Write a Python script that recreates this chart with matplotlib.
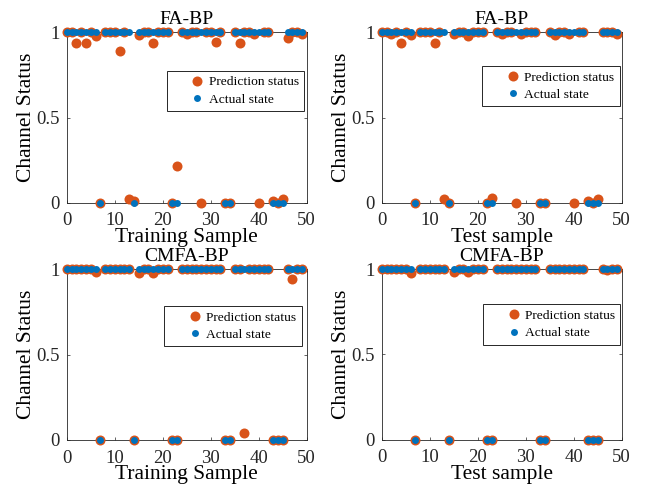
import numpy as np
import matplotlib
matplotlib.use('Agg')
import matplotlib.pyplot as plt

plt.rcParams['font.family'] = ['Liberation Serif', 'DejaVu Serif']

# sample index 0..49
samples = np.arange(50)

# actual channel state (same for every panel)
actual = [1, 1, 1, 1, 1, 1, 1, 0, 1, 1,
          1, 1, 1, 1, 0, 1, 1, 1, 1, 1,
          1, 1, 0, 0, 1, 1, 1, 1, 1, 1,
          1, 1, 1, 0, 0, 1, 1, 1, 1, 1,
          1, 1, 1, 0, 0, 0, 1, 1, 1, 1]

# predicted state, FA-BP, training set
pred_fa_train = [1, 1, 0.94, 1, 0.94, 1, 0.98, 0, 1, 1,
                 1, 0.89, 1, 0.02, 0.01, 0.985, 1, 1, 0.94, 1,
                 1, 1, 0, 0.215, 1, 0.99, 1, 1, 0, 1,
                 1, 0.945, 1, 0, 0, 1, 0.935, 1, 1, 0.99,
                 0, 1, 1, 0.01, 0, 0.02, 0.965, 1, 1, 0.99]

# predicted state, FA-BP, test set
pred_fa_test = [1, 1, 0.99, 1, 0.94, 1, 0.985, 0, 1, 1,
                1, 0.935, 1, 0.02, 0, 0.99, 1, 1, 0.98, 1,
                1, 1, 0, 0.025, 1, 0.99, 1, 1, 0, 0.99,
                1, 1, 1, 0, 0, 1, 0.985, 1, 1, 0.99,
                0, 1, 1, 0.01, 0, 0.02, 1, 1, 1, 0.99]

# predicted state, CMFA-BP, training set
pred_cm_train = [1, 1, 1, 1, 1, 1, 0.98, 0, 1, 1,
                 1, 1, 1, 1, 0, 0.975, 1, 1, 0.975, 1,
                 1, 1, 0, 0, 1, 1, 1, 1, 1, 1,
                 1, 1, 1, 0, 0, 1, 1, 0.043, 1, 1,
                 1, 1, 1, 0, 0, 0, 1, 0.94, 1, 1]

# predicted state, CMFA-BP, test set
pred_cm_test = [1, 1, 1, 1, 1, 1, 0.975, 0, 1, 1,
                1, 1, 1, 1, 0, 0.98, 1, 1, 0.985, 1,
                1, 1, 0, 0, 1, 1, 1, 1, 1, 1,
                1, 1, 1, 0, 0, 1, 1, 1, 1, 1,
                1, 1, 1, 0, 0, 0, 1, 0.995, 1, 1]

titles = ['FA-BP', 'FA-BP', 'CMFA-BP', 'CMFA-BP']
xlabels = ['Training Sample', 'Test sample', 'Training Sample', 'Test sample']
preds = [pred_fa_train, pred_fa_test, pred_cm_train, pred_cm_test]

orange = '#D95319'
blue = '#0072BD'
W, H = 649, 492

fig = plt.figure(figsize=(W / 100, H / 100), dpi=100)
fig.patch.set_facecolor('white')

# axes boxes in pixels: left, top, right, bottom
boxes = [(66.7, 32.3, 306.7, 202.7),
         (381.7, 32.3, 621.7, 202.7),
         (66.7, 269.0, 306.7, 440.0),
         (381.7, 269.0, 621.7, 439.5)]
legend_anchor = [(0.417, 0.775), (0.419, 0.804), (0.407, 0.784), (0.423, 0.794)]

for i in range(4):
    l, t, r, b = boxes[i]
    ax = fig.add_axes([l / W, (H - b) / H, (r - l) / W, (b - t) / H])
    ax.plot(samples, preds[i], 'o', color=orange, markersize=7.2, mew=0,
            label='Prediction status', clip_on=False, zorder=3)
    ax.plot(samples, actual, 'o', color=blue, markersize=5.0, mew=0,
            label='Actual state', clip_on=False, zorder=4)
    ax.set_xlim(0, 50)
    ax.set_ylim(0, 1)
    ax.set_xticks([0, 10, 20, 30, 40, 50])
    ax.set_yticks([0, 0.5, 1])
    ax.set_yticklabels(['0', '0.5', '1'])
    ax.tick_params(direction='in', top=True, right=True, length=2.5, width=0.5,
                   labelsize=13.5, colors='#262626', labelcolor='#262626')
    ax.tick_params(axis='x', pad=7)
    ax.tick_params(axis='y', pad=5)
    for s in ax.spines.values():
        s.set_color('#262626')
        s.set_linewidth(0.6)
    ax.set_title(titles[i], fontsize=14, pad=6)
    ax.set_xlabel(xlabels[i], fontsize=15.5, labelpad=-1)
    ax.set_ylabel('Channel Status', fontsize=15.5, labelpad=0)
    leg = ax.legend(loc='upper left', bbox_to_anchor=legend_anchor[i], fontsize=9.7,
                    handlelength=3.7, handletextpad=-1.0, labelspacing=0.36,
                    borderpad=0.4, borderaxespad=0, fancybox=False, framealpha=1,
                    edgecolor='#262626')
    leg.get_frame().set_linewidth(0.7)

fig.savefig('out.png', dpi=100)
